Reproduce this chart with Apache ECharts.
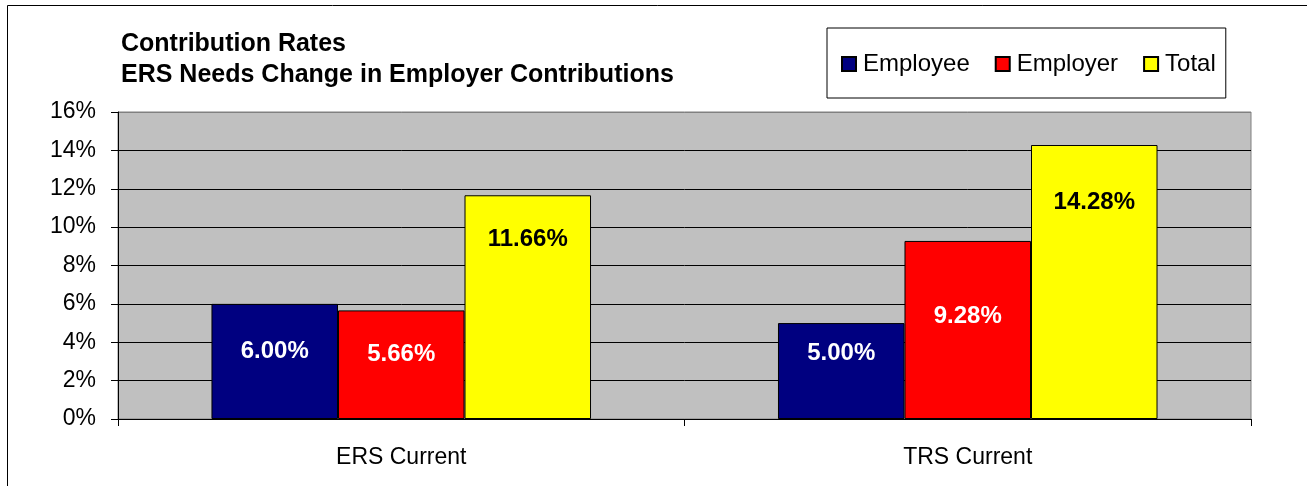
<!DOCTYPE html>
<html>
<head>
<meta charset="utf-8">
<script src="https://cdn.jsdelivr.net/npm/echarts@6/dist/echarts.min.js"></script>
<style>
  html, body { margin: 0; padding: 0; background: #fff; }
  #chart { width: 1307px; height: 486px; }
</style>
</head>
<body>
<div id="chart"></div>
<script>
// data (percent)
const categories = ['ERS Current', 'TRS Current'];
const employee = [6.00, 5.00];
const employer = [5.66, 9.28];
const total = [11.66, 14.28];

// where each value label sits, px below the bar top (hand placed in the original)
const labelDrop = {
  Employee: [47, 30],
  Employer: [44, 75],
  Total: [44, 57]
};

const font = 'Arial, "Liberation Sans", sans-serif';

function makeSeries(name, values, color, textColor) {
  return {
    name: name,
    type: 'bar',
    barGap: '0%',
    barCategoryGap: '33%',
    itemStyle: { color: color, borderColor: '#000', borderWidth: 1 },
    data: values.map(function (v, i) {
      return {
        value: v,
        label: { position: ['50%', labelDrop[name][i]] }
      };
    }),
    label: {
      show: true,
      align: 'center',
      verticalAlign: 'middle',
      color: textColor,
      fontFamily: font,
      fontWeight: 'bold',
      fontSize: 24,
      formatter: function (p) { return p.value.toFixed(2) + '%'; }
    }
  };
}

let chart = echarts.init(document.getElementById('chart'));
chart.setOption({
  animation: false,
  backgroundColor: '#fff',
  title: {
    text: 'Contribution Rates\nERS Needs Change in Employer Contributions',
    left: 121,
    top: 29,
    padding: 0,
    textStyle: {
      fontFamily: font,
      fontWeight: 'bold',
      fontSize: 25,
      lineHeight: 31,
      color: '#000'
    }
  },
  legend: {
    left: 827,
    top: 28,
    padding: [24, 10, 22, 14],
    borderColor: '#000',
    borderWidth: 1,
    backgroundColor: '#fff',
    itemWidth: 14,
    itemHeight: 14,
    itemGap: 25,
    icon: 'rect',
    textStyle: {
      fontFamily: font,
      fontSize: 24,
      lineHeight: 24,
      color: '#000',
      padding: [0, 0, 0, 2]
    },
    data: ['Employee', 'Employer', 'Total']
  },
  grid: {
    left: 118,
    right: 56,
    top: 112,
    bottom: 67,
    show: true,
    backgroundColor: '#C0C0C0',
    borderColor: '#808080',
    borderWidth: 1
  },
  xAxis: {
    type: 'category',
    data: categories,
    axisLine: { lineStyle: { color: '#000', width: 1 } },
    axisTick: { show: true, length: 7, lineStyle: { color: '#000' } },
    axisLabel: { margin: 27, color: '#000', fontFamily: font, fontSize: 23 }
  },
  yAxis: {
    type: 'value',
    min: 0,
    max: 16,
    interval: 2,
    axisLine: { show: true, lineStyle: { color: '#000', width: 1 } },
    axisTick: { show: true, length: 7, lineStyle: { color: '#000' } },
    axisLabel: {
      margin: 22,
      color: '#000',
      fontFamily: font,
      fontSize: 23,
      formatter: '{value}%'
    },
    splitLine: {
      lineStyle: {
        color: ['#000', '#000', '#000', '#000', '#000', '#000', '#000', '#000', '#808080'],
        width: 1
      }
    }
  },
  graphic: [{
    type: 'rect',
    shape: { x: 7.5, y: 5.5, width: 1400, height: 600 },
    style: { fill: null, stroke: '#000', lineWidth: 1 },
    z: 100
  }],
  series: [
    makeSeries('Employee', employee, '#000080', '#fff'),
    makeSeries('Employer', employer, '#FF0000', '#fff'),
    makeSeries('Total', total, '#FFFF00', '#000')
  ]
});
</script>
</body>
</html>
